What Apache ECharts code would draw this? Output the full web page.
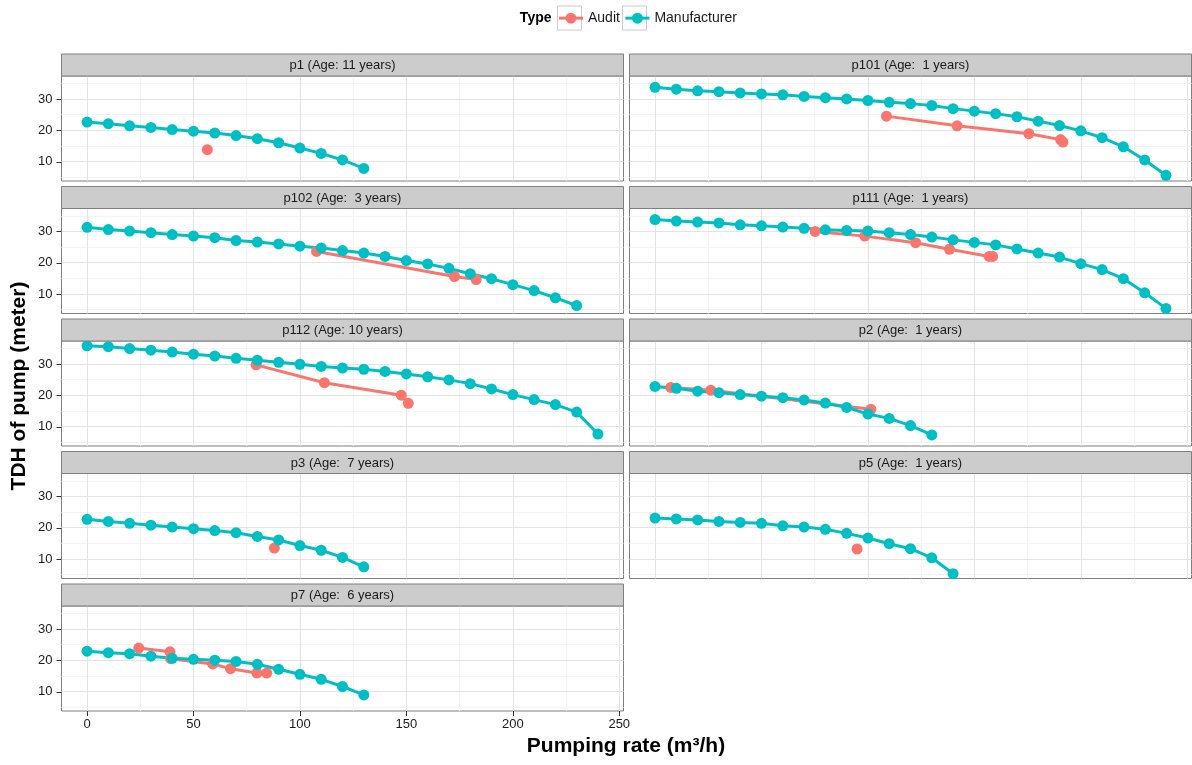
<!DOCTYPE html>
<html>
<head>
<meta charset="utf-8">
<script src="https://cdn.jsdelivr.net/npm/echarts@6/dist/echarts.min.js"></script>
<style>
  html, body { margin: 0; padding: 0; background: #ffffff; }
  #chart { width: 1192px; height: 765px; }
</style>
</head>
<body>
<div id="chart"></div>
<script>
// ---- Pump head curves: pumping rate (m³/h) vs total dynamic head (m) ----

// Flow steps of the manufacturer curves
const flowTo130 = [0, 10, 20, 30, 40, 50, 60, 70, 80, 90, 100, 110, 120, 130];
const flowTo140 = [0, 10, 20, 30, 40, 50, 60, 70, 80, 90, 100, 110, 120, 130, 140];
const flowTo230 = [0, 10, 20, 30, 40, 50, 60, 70, 80, 90, 100, 110, 120, 130, 140, 150, 160, 170, 180, 190, 200, 210, 220, 230];
const flowTo240 = [0, 10, 20, 30, 40, 50, 60, 70, 80, 90, 100, 110, 120, 130, 140, 150, 160, 170, 180, 190, 200, 210, 220, 230, 240];

// Manufacturer heads per pump
const p1Head   = [22.6, 22.1, 21.4, 20.9, 20.2, 19.7, 19.1, 18.3, 17.3, 16.0, 14.3, 12.6, 10.5, 7.8];
const p101Head = [33.7, 33.1, 32.6, 32.3, 31.9, 31.6, 31.3, 30.8, 30.4, 30.0, 29.5, 28.9, 28.5, 27.9, 26.9, 26.1, 25.3, 24.3, 22.9, 21.5, 19.8, 17.6, 14.7, 10.5, 5.6];
const p102Head = [31.3, 30.6, 30.1, 29.6, 29.0, 28.5, 28.0, 27.1, 26.6, 26.0, 25.3, 24.7, 23.9, 23.1, 22.0, 20.7, 19.6, 18.2, 16.5, 14.9, 13.0, 11.1, 8.8, 6.3];
const p111Head = [33.8, 33.3, 33.0, 32.7, 32.1, 31.8, 31.4, 31.0, 30.5, 30.3, 30.1, 29.6, 29.0, 28.2, 27.3, 26.5, 25.7, 24.4, 23.1, 21.8, 19.7, 17.8, 14.9, 10.4, 5.4];
const p112Head = [35.8, 35.5, 34.9, 34.4, 33.8, 33.1, 32.5, 31.8, 31.2, 30.5, 29.9, 29.2, 28.7, 28.3, 27.6, 26.8, 25.9, 24.9, 23.7, 22.0, 20.2, 18.6, 17.0, 14.6, 7.6];
const p2Head   = [22.8, 22.2, 21.3, 20.8, 20.2, 19.7, 19.2, 18.5, 17.5, 16.1, 14.0, 12.6, 10.3, 7.3];
const p3Head   = [22.7, 22.0, 21.4, 20.8, 20.2, 19.7, 19.1, 18.4, 17.2, 16.1, 14.3, 12.8, 10.5, 7.5];
const p5Head   = [23.1, 22.8, 22.5, 22.0, 21.7, 21.4, 20.6, 20.2, 19.5, 18.2, 16.7, 14.9, 13.3, 10.4, 5.3];
const p7Head   = [22.9, 22.4, 22.1, 21.3, 20.6, 20.3, 20.0, 19.6, 18.7, 17.1, 15.5, 13.9, 11.6, 8.9];

// Audit measurements per pump
const p1AuditFlow   = [56.5];
const p1AuditHead   = [13.8];
const p101AuditFlow = [108.7, 141.9, 175.6, 190.5, 191.6];
const p101AuditHead = [24.5, 21.4, 18.9, 17.0, 16.2];
const p102AuditFlow = [107.8, 172.6, 182.8];
const p102AuditHead = [23.6, 15.6, 14.6];
const p111AuditFlow = [75.2, 98.5, 122.4, 138.3, 157.0, 158.6];
const p111AuditHead = [30.0, 28.5, 26.4, 24.3, 22.0, 22.0];
const p112AuditFlow = [79.4, 111.5, 147.6, 150.9];
const p112AuditHead = [29.7, 24.0, 20.0, 17.4];
const p2AuditFlow   = [7.4, 26.2, 101.4];
const p2AuditHead   = [22.5, 21.6, 15.5];
const p3AuditFlow   = [88.0];
const p3AuditHead   = [13.5];
const p5AuditFlow   = [94.9];
const p5AuditHead   = [13.2];
const p7AuditFlow   = [24.3, 39.0, 39.3, 59.0, 67.4, 79.8, 84.4];
const p7AuditHead   = [23.9, 22.7, 20.5, 18.8, 17.3, 15.9, 15.9];

// Facet titles
const panelTitles = [
  'p1 (Age: 11 years)', 'p101 (Age:  1 years)',
  'p102 (Age:  3 years)', 'p111 (Age:  1 years)',
  'p112 (Age: 10 years)', 'p2 (Age:  1 years)',
  'p3 (Age:  7 years)', 'p5 (Age:  1 years)',
  'p7 (Age:  6 years)'
];

// Axis ticks and grid lines
const flowTicks = [0, 50, 100, 150, 200, 250];
const flowMinor = [25, 75, 125, 175, 225];
const headTicks = [10, 20, 30];
const headMinor = [5, 15, 25, 35];

const seriesNames = ['Audit', 'Manufacturer'];
const legendTitle = 'Type';
const xTitle = 'Pumping rate (m³/h)';
const yTitle = 'TDH of pump (meter)';

// ---- assemble panels ----
const panels = [
  { mq: flowTo130, mh: p1Head,   aq: p1AuditFlow,   ah: p1AuditHead },
  { mq: flowTo240, mh: p101Head, aq: p101AuditFlow, ah: p101AuditHead },
  { mq: flowTo230, mh: p102Head, aq: p102AuditFlow, ah: p102AuditHead },
  { mq: flowTo240, mh: p111Head, aq: p111AuditFlow, ah: p111AuditHead },
  { mq: flowTo240, mh: p112Head, aq: p112AuditFlow, ah: p112AuditHead },
  { mq: flowTo130, mh: p2Head,   aq: p2AuditFlow,   ah: p2AuditHead },
  { mq: flowTo130, mh: p3Head,   aq: p3AuditFlow,   ah: p3AuditHead },
  { mq: flowTo140, mh: p5Head,   aq: p5AuditFlow,   ah: p5AuditHead },
  { mq: flowTo130, mh: p7Head,   aq: p7AuditFlow,   ah: p7AuditHead }
];

const zip = (xs, ys) => xs.map((x, k) => [x, ys[k]]);
const byFlow = pts => pts.slice().sort((a, b) => a[0] - b[0]);

// shared scales, padded by 5% of the data range on each side
const allQ = panels.flatMap(p => p.mq.concat(p.aq));
const allH = panels.flatMap(p => p.mh.concat(p.ah));
const qLo = Math.min(...allQ), qHi = Math.max(...allQ);
const hLo = Math.min(...allH), hHi = Math.max(...allH);
const xMin = qLo - 0.05 * (qHi - qLo), xMax = qHi + 0.05 * (qHi - qLo);
const yMin = hLo - 0.05 * (hHi - hLo), yMax = hHi + 0.05 * (hHi - hLo);

// ---- layout ----
const FONT = '"Liberation Sans", Arial, Helvetica, sans-serif';
const AUDIT = '#F8766D', MAKER = '#00BFC4';
const TICK_COLOR = '#333333', TICK_LEN = 5;
const colLeft = [61.5, 629.5];
const panelW = 562;
const stripH = 22;
const plotH = 105;
const rowStep = 132.5;
const firstRowTop = 54;
const LINE_W = 3, DOT = 11;

// legend geometry
const KEY = 24, LEGEND_Y = 18;
const keyBoxX = [557.5, 622.5];

const grids = [], xAxes = [], yAxes = [], series = [], graphics = [];
const panelHasYTicks = [], panelHasXTicks = [];

panels.forEach((p, i) => {
  const row = Math.floor(i / 2), col = i % 2;
  const left = colLeft[col];
  const stripTop = firstRowTop + row * rowStep;
  const top = stripTop + stripH;
  const bottomRow = i === panels.length - 1;
  panelHasYTicks.push(col === 0);
  panelHasXTicks.push(bottomRow);

  grids.push({
    left: left, top: top, width: panelW, height: plotH,
    show: true, backgroundColor: '#ffffff', borderColor: '#7f7f7f', borderWidth: 1,
    containLabel: false, outerBoundsMode: 'none'
  });

  xAxes.push({
    type: 'value', gridIndex: i, min: xMin, max: xMax, position: 'bottom',
    axisLine: { show: false, onZero: false },
    splitLine: { show: false },
    axisTick: { show: false },
    axisLabel: { show: bottomRow, customValues: flowTicks, margin: TICK_LEN + 2, fontSize: 13, color: '#1a1a1a', fontFamily: FONT }
  });

  yAxes.push({
    type: 'value', gridIndex: i, min: yMin, max: yMax, position: 'left',
    axisLine: { show: false, onZero: false },
    splitLine: { show: false },
    axisTick: { show: false },
    axisLabel: { show: col === 0, customValues: headTicks, margin: TICK_LEN + 4, fontSize: 13, color: '#1a1a1a', fontFamily: FONT }
  });

  // panel grid lines (minor first, then major), kept beneath the data
  const gl = (v, axis, color) => ({ [axis]: v, lineStyle: { color: color, width: 1, type: 'solid' } });
  series.push({
    type: 'line', xAxisIndex: i, yAxisIndex: i, data: [], z: 1, silent: true,
    markLine: {
      z: 1, silent: true, symbol: ['none', 'none'], label: { show: false }, animation: false,
      emphasis: { disabled: true },
      data: [].concat(
        flowMinor.map(v => gl(v, 'xAxis', '#f3f3f3')),
        headMinor.map(v => gl(v, 'yAxis', '#f3f3f3')),
        flowTicks.map(v => gl(v, 'xAxis', '#e3e3e3')),
        headTicks.map(v => gl(v, 'yAxis', '#e3e3e3'))
      )
    }
  });

  const auditPts = byFlow(zip(p.aq, p.ah));
  const makerPts = zip(p.mq, p.mh);

  // lines underneath, points on top
  series.push({
    name: seriesNames[0], type: 'line', xAxisIndex: i, yAxisIndex: i, data: auditPts,
    symbol: 'circle', showSymbol: false, z: 2, silent: true,
    lineStyle: { color: AUDIT, width: LINE_W }, itemStyle: { color: AUDIT }
  });
  series.push({
    name: seriesNames[1], type: 'line', xAxisIndex: i, yAxisIndex: i, data: makerPts,
    symbol: 'circle', showSymbol: false, z: 3, silent: true,
    lineStyle: { color: MAKER, width: LINE_W }, itemStyle: { color: MAKER }
  });
  series.push({
    name: seriesNames[0], type: 'scatter', xAxisIndex: i, yAxisIndex: i, data: auditPts,
    symbol: 'circle', symbolSize: DOT, z: 4, silent: true, itemStyle: { color: AUDIT, opacity: 1 }
  });
  series.push({
    name: seriesNames[1], type: 'scatter', xAxisIndex: i, yAxisIndex: i, data: makerPts,
    symbol: 'circle', symbolSize: DOT, z: 5, silent: true, itemStyle: { color: MAKER, opacity: 1 }
  });

  // facet strip
  graphics.push({
    type: 'rect', z: 10,
    shape: { x: left, y: stripTop, width: panelW, height: stripH },
    style: { fill: '#cccccc', stroke: '#7f7f7f', lineWidth: 1 }
  });
  graphics.push({
    type: 'text', z: 11, x: left + panelW / 2, y: stripTop + stripH / 2 + 0.5,
    style: {
      text: panelTitles[i], font: '13px ' + FONT, fill: '#1a1a1a',
      textAlign: 'center', textVerticalAlign: 'middle', align: 'center', verticalAlign: 'middle'
    }
  });
});

// legend key boxes and title
keyBoxX.forEach(x => graphics.push({
  type: 'rect', z: 0,
  shape: { x: x, y: LEGEND_Y - KEY / 2, width: KEY, height: KEY },
  style: { fill: '#ffffff', stroke: '#cccccc', lineWidth: 1 }
}));
graphics.push({
  type: 'text', x: keyBoxX[0] - 6, y: LEGEND_Y + 0.5,
  style: {
    text: legendTitle, font: 'bold 14px ' + FONT, fill: '#000000',
    textAlign: 'right', textVerticalAlign: 'middle', align: 'right', verticalAlign: 'middle'
  }
});

// axis titles
graphics.push({
  type: 'text', x: 626, y: 746,
  style: {
    text: xTitle, font: 'bold 21px ' + FONT, fill: '#000000',
    textAlign: 'center', textVerticalAlign: 'middle', align: 'center', verticalAlign: 'middle'
  }
});
graphics.push({
  type: 'text', x: 19, y: 386, rotation: Math.PI / 2,
  style: {
    text: yTitle, font: 'bold 21px ' + FONT, fill: '#000000',
    textAlign: 'center', textVerticalAlign: 'middle', align: 'center', verticalAlign: 'middle'
  }
});

const legendIconH = 13.75;
const chart = echarts.init(document.getElementById('chart'), null, { renderer: 'canvas' });
chart.setOption({
  backgroundColor: '#ffffff',
  animation: false,
  legend: {
    data: seriesNames,
    left: keyBoxX[0], top: LEGEND_Y - legendIconH / 2, padding: 0,
    itemWidth: KEY, itemHeight: legendIconH, itemGap: 4,
    selectedMode: false,
    textStyle: { fontSize: 14, color: '#1a1a1a', fontFamily: FONT },
    lineStyle: { width: LINE_W },
    itemStyle: { borderWidth: 0 }
  },
  grid: grids,
  xAxis: xAxes,
  yAxis: yAxes,
  series: series,
  graphic: { elements: graphics }
});

// outward tick marks at the labelled values, placed through each panel's own scales
const tickMarks = [];
panels.forEach((p, i) => {
  const finder = { xAxisIndex: i, yAxisIndex: i };
  if (panelHasYTicks[i]) {
    headTicks.forEach(v => {
      const pt = chart.convertToPixel(finder, [xMin, v]);
      const y = Math.round(pt[1]) + 0.5;
      tickMarks.push({
        type: 'line', z: 12, silent: true,
        shape: { x1: pt[0] - TICK_LEN, y1: y, x2: pt[0], y2: y },
        style: { stroke: TICK_COLOR, lineWidth: 1 }
      });
    });
  }
  if (panelHasXTicks[i]) {
    flowTicks.forEach(v => {
      const pt = chart.convertToPixel(finder, [v, yMin]);
      const x = Math.round(pt[0]) + 0.5;
      tickMarks.push({
        type: 'line', z: 12, silent: true,
        shape: { x1: x, y1: pt[1], x2: x, y2: pt[1] + TICK_LEN },
        style: { stroke: TICK_COLOR, lineWidth: 1 }
      });
    });
  }
});
chart.setOption({ graphic: { elements: graphics.concat(tickMarks) } });
</script>
</body>
</html>
